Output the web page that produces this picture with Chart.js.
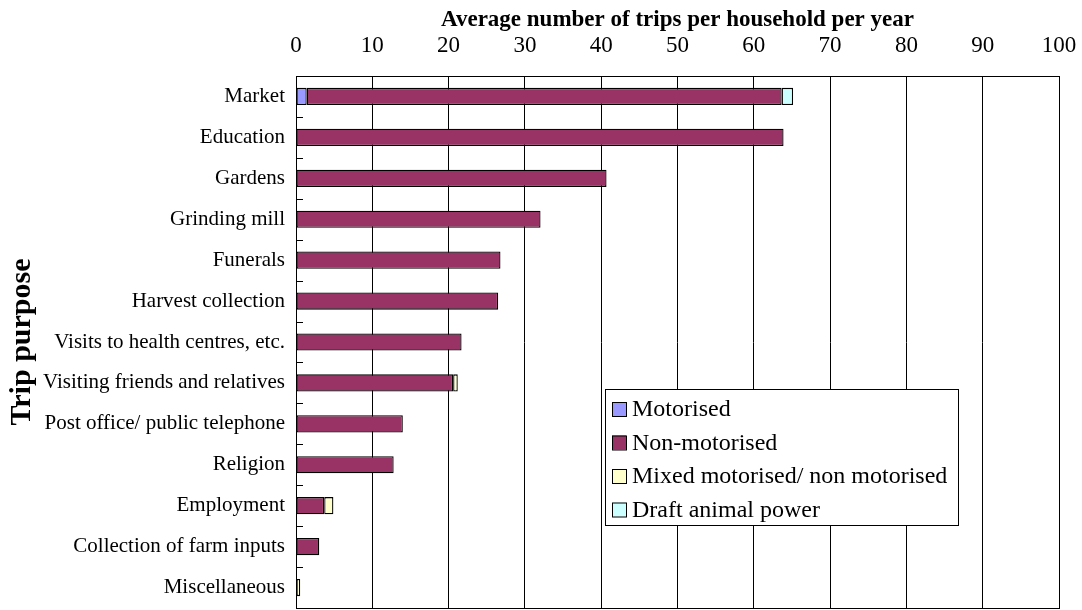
<!DOCTYPE html>
<html>
<head>
<meta charset="utf-8">
<script src="https://cdn.jsdelivr.net/npm/chart.js@4/dist/chart.umd.min.js"></script>
<style>
  html, body { margin: 0; padding: 0; background: #fff; }
  #wrap { width: 1082px; height: 610px; }
</style>
</head>
<body>
<div id="wrap"><canvas id="myChart" width="1082" height="610"></canvas></div>
<script>
let purposes = ["Market", "Education", "Gardens", "Grinding mill", "Funerals", "Harvest collection",
    "Visits to health centres, etc.", "Visiting friends and relatives", "Post office/ public telephone",
    "Religion", "Employment", "Collection of farm inputs", "Miscellaneous"];

let motorised    = [1.4, 0, 0, 0, 0, 0, 0, 0, 0, 0, 0, 0, 0];
let nonMotorised = [62.25, 63.9, 40.7, 32.05, 26.8, 26.5, 21.7, 20.6, 14.0, 12.8, 3.7, 3.05, 0];
let mixed        = [0, 0, 0, 0, 0, 0, 0, 0.6, 0, 0, 1.2, 0, 0.55];
let draftAnimal  = [1.5, 0, 0, 0, 0, 0, 0, 0, 0, 0, 0, 0, 0];

let xTicks = [0, 10, 20, 30, 40, 50, 60, 70, 80, 90, 100];

let serif = "'Liberation Serif', 'Times New Roman', serif";

// rectangle round the plot and the little inside ticks on the category axis
let framePlugin = {
    id: "frame",
    afterDraw(chart) {
        let ctx = chart.ctx;
        let a = chart.chartArea;
        ctx.save();
        ctx.strokeStyle = "#000";
        ctx.lineWidth = 1;
        ctx.strokeRect(a.left + 0.5, a.top + 0.5, a.right - a.left, a.bottom - a.top);
        let step = (a.bottom - a.top) / purposes.length;
        ctx.beginPath();
        for (let i = 1; i < purposes.length; i++) {
            let yy = Math.round(a.top + step * i) + 0.5;
            ctx.moveTo(a.left, yy);
            ctx.lineTo(a.left + 7, yy);
        }
        ctx.stroke();
        ctx.restore();
    }
};

// legend box drawn inside the plot, like the original
let legendPlugin = {
    id: "boxLegend",
    afterDraw(chart) {
        let ctx = chart.ctx;
        let x0 = 605, y0 = 389, w = 353, h = 136;
        ctx.save();
        ctx.fillStyle = "#fff";
        ctx.fillRect(x0, y0, w, h);
        ctx.strokeStyle = "#000";
        ctx.lineWidth = 1;
        ctx.strokeRect(x0 + 0.5, y0 + 0.5, w, h);
        ctx.font = "24px " + serif;
        ctx.textBaseline = "middle";
        let sets = chart.data.datasets;
        for (let i = 0; i < sets.length; i++) {
            let cy = y0 + 20 + i * 33.5;
            ctx.fillStyle = sets[i].backgroundColor;
            ctx.fillRect(612, cy - 7, 14, 14);
            ctx.strokeRect(612.5, cy - 6.5, 14, 14);
            ctx.fillStyle = "#000";
            ctx.fillText(sets[i].label, 632, cy + 1);
        }
        ctx.restore();
    }
};

function serie(label, data, color) {
    return {
        label: label,
        data: data,
        backgroundColor: color,
        borderColor: "#000",
        borderWidth: 1.3,
        borderSkipped: false,
        categoryPercentage: 1,
        barPercentage: 0.42
    };
}

let canvas = document.getElementById("myChart");

let grafic = new Chart(canvas, {
    type: "bar",
    data: {
        labels: purposes,
        datasets: [
            serie("Motorised", motorised, "#9999FF"),
            serie("Non-motorised", nonMotorised, "#993366"),
            serie("Mixed motorised/ non motorised", mixed, "#FFFFCC"),
            serie("Draft animal power", draftAnimal, "#CCFFFF")
        ]
    },
    options: {
        indexAxis: "y",
        responsive: false,
        animation: false,
        layout: { padding: { top: 0, right: 23, bottom: 2, left: 0 } },
        plugins: {
            legend: { display: false },
            tooltip: { enabled: false }
        },
        scales: {
            x: {
                position: "top",
                stacked: true,
                min: 0,
                max: 100,
                afterBuildTicks(scale) {
                    scale.ticks = xTicks.map(v => ({ value: v }));
                },
                afterFit(scale) {
                    scale.height = 76;
                    scale.paddingLeft = 0;
                    scale.paddingRight = 0;
                },
                grid: { color: "#000", lineWidth: 1, drawTicks: false },
                border: { color: "#000" },
                ticks: { color: "#000", font: { family: serif, size: 23 }, padding: 16, maxRotation: 0 },
                title: {
                    display: true,
                    text: "Average number of trips per household per year",
                    color: "#000",
                    font: { family: serif, size: 23, weight: "bold" },
                    padding: { top: 6, bottom: 0 }
                }
            },
            y: {
                stacked: true,
                afterFit(scale) {
                    scale.width = 296;
                    scale.paddingTop = 0;
                    scale.paddingBottom = 0;
                },
                grid: { display: false },
                border: { color: "#000" },
                ticks: { color: "#000", font: { family: serif, size: 21 }, padding: 3 },
                title: {
                    display: true,
                    text: "Trip purpose",
                    color: "#000",
                    font: { family: serif, size: 30, weight: "bold" },
                    padding: { top: 4, bottom: 4 }
                }
            }
        }
    },
    plugins: [framePlugin, legendPlugin]
});
</script>
</body>
</html>
